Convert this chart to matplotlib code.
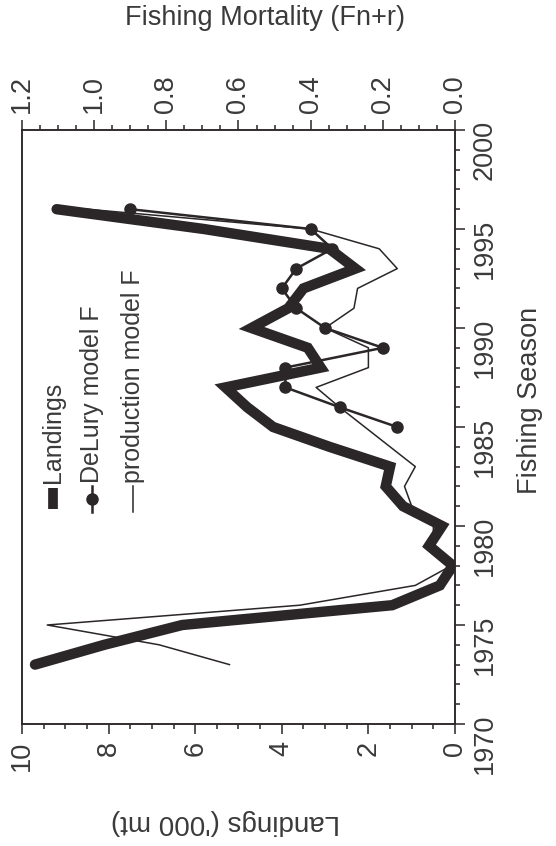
import matplotlib
matplotlib.use('Agg')
import matplotlib.pyplot as plt
from matplotlib.ticker import MultipleLocator

plt.rcParams['font.family'] = ['Liberation Sans', 'DejaVu Sans']

# data (chart is printed turned on its side)
landing_years = list(range(1973, 1997))
landings = [9.7, 8.1, 6.3, 1.45, 0.35, 0.05, 0.6, 0.3, 1.2, 1.6, 1.5, 2.9,
            4.2, 4.8, 5.3, 3.1, 3.4, 4.7, 3.85, 3.5, 2.3, 2.9, 5.8, 9.2]

delury_years = list(range(1985, 1997))
delury_f = [0.16, 0.32, 0.47, 0.47, 0.20, 0.36, 0.44, 0.48, 0.44, 0.34, 0.40, 0.90]

prod_years = list(range(1973, 1997))
prod_f = [0.625, 0.82, 1.13, 0.43, 0.11, 0.01, 0.06, 0.06, 0.12, 0.14, 0.11, 0.18,
          0.25, 0.32, 0.385, 0.24, 0.24, 0.36, 0.28, 0.27, 0.16, 0.21, 0.40, 1.02]

legend_names = ['Landings', 'DeLury model F', 'production model F']

ink = '#2b2627'
txt = '#3a3a3a'

fig = plt.figure(figsize=(5.56, 8.46), dpi=100)
ax = fig.add_axes([22 / 556, 1 - 724 / 846, 433 / 556, 594 / 846])

# landings: horizontal axis (reversed), seasons run up the right side
ax.plot(landings, landing_years, color=ink, lw=7.5, solid_capstyle='round',
        solid_joinstyle='miter', zorder=2)
ax.set_xlim(10, 0)
ax.set_ylim(1970, 2000)

ax.xaxis.set_major_locator(MultipleLocator(2))
ax.xaxis.set_minor_locator(MultipleLocator(0.5))
ax.yaxis.set_major_locator(MultipleLocator(5))
ax.yaxis.set_minor_locator(MultipleLocator(1))
ax.xaxis.set_major_formatter(plt.FuncFormatter(lambda v, p: f'{v:.0f}'))
ax.tick_params(axis='y', left=False, right=True, labelleft=False, labelright=True,
               which='both')
ax.tick_params(which='both', direction='out', colors=ink, width=1.1,
               labelcolor=txt, labelsize=19.5)
ax.tick_params(which='major', length=7)
ax.tick_params(which='minor', length=3.5)
ax.tick_params(axis='x', labelrotation=90, pad=5)
ax.tick_params(axis='y', labelrotation=90, pad=5)

# fishing mortality on the top axis
ax2 = ax.twiny()
ax2.plot(prod_f, prod_years, color=ink, lw=1.1, zorder=3)
ax2.plot(delury_f, delury_years, color=ink, lw=1.8, marker='o', ms=8, zorder=4)
ax2.set_xlim(1.2, 0)
ax2.xaxis.set_major_locator(MultipleLocator(0.2))
ax2.xaxis.set_minor_locator(MultipleLocator(0.05))
ax2.xaxis.set_major_formatter(plt.FuncFormatter(lambda v, p: f'{v:.1f}'))
ax2.tick_params(which='both', direction='out', colors=ink, width=1.1,
                labelcolor=txt, labelsize=19.5)
ax2.tick_params(which='major', length=7)
ax2.tick_params(which='minor', length=3.5)
ax2.tick_params(axis='x', labelrotation=90, pad=5)

for a in (ax, ax2):
    for s in a.spines.values():
        s.set_color(ink)
        s.set_linewidth(1.1)

# legend, drawn by hand so it can stand on its side like the rest
leg_x = [0.072, 0.162, 0.256]
ax.plot([leg_x[0]] * 2, [0.362, 0.398], transform=ax.transAxes, color=ink,
        lw=7, solid_capstyle='butt')
ax.plot([leg_x[1]] * 2, [0.357, 0.400], transform=ax.transAxes, color=ink, lw=1.8)
ax.plot([leg_x[1]], [0.378], transform=ax.transAxes, color=ink, marker='o', ms=8)
ax.plot([leg_x[2]] * 2, [0.357, 0.400], transform=ax.transAxes, color=ink, lw=1.1)
for lx, name in zip(leg_x, legend_names):
    ax.text(lx, 0.405, name, transform=ax.transAxes, rotation=90, ha='center',
            va='bottom', fontsize=18, color=txt)

fig.text(265 / 556, 1 - 18 / 846, 'Fishing Mortality (Fn+r)', ha='center',
         va='center', fontsize=19.5, color=txt)
fig.text(0.953, 0.527, 'Fishing Season', ha='center', va='center', rotation=90,
         fontsize=19.5, color=txt)
fig.text(225 / 556, 1 - 822 / 846, "Landings ('000 mt)", ha='center', va='center',
         rotation=180, fontsize=20, color=txt)

fig.savefig('out.png', dpi=100)
